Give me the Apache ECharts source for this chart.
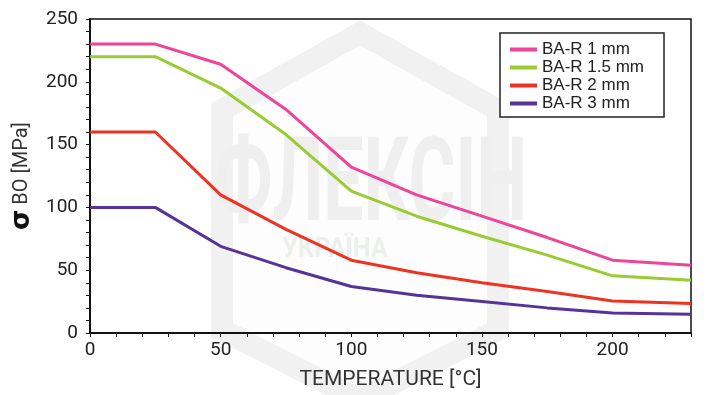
<!DOCTYPE html>
<html><head><meta charset="utf-8">
<script src="https://cdn.jsdelivr.net/npm/echarts@6/dist/echarts.min.js"></script>
<style>html,body{margin:0;padding:0;background:#fff}#c{width:709px;height:395px}</style>
</head><body><div id="c"></div>
<script>
const temps = [0, 25, 50, 75, 100, 125, 150, 175, 200, 230];
const seriesNames = ['BA-R 1 mm', 'BA-R 1.5 mm', 'BA-R 2 mm', 'BA-R 3 mm'];
const r1 = [230, 230, 214, 178, 132, 110, 93, 76, 58, 54];
const r15 = [220, 220, 195, 158, 113, 93, 77, 62, 45.5, 42];
const r2 = [160, 160, 110, 82.5, 58, 48, 40, 33, 25.5, 23.5];
const r3 = [100, 100, 69, 52, 37, 30, 25, 20, 16, 15];
const colors = ['#ee4499', '#99cc33', '#ee3322', '#553399'];
const font = 'Roboto, sans-serif';

const chart = echarts.init(document.getElementById('c'));
const mk = (name, vals, i) => ({
  name, type: 'line', data: temps.map((t, k) => [t, vals[k]]),
  symbol: 'none', lineStyle: { width: 3, color: colors[i] }, itemStyle: { color: colors[i] }, z: 5
});
chart.setOption({
  animation: false,
  graphic: [
    { type: 'polygon', z: -10, silent: true,
      shape: { points: [[360, 33], [498, 110], [498, 330], [360, 400], [222, 330], [222, 110]] },
      style: { fill: '#fcfdfc', stroke: '#f1f1f1', lineWidth: 22 } },
    { type: 'text', z: -9, silent: true, x: 214, y: 132, scaleX: 0.64, scaleY: 1.05,
      style: { text: 'ФЛЕКСІН', font: 'bold 112px Roboto, sans-serif', fill: '#efefef' } },
    { type: 'text', z: -9, silent: true, x: 282, y: 236, scaleX: 0.9,
      style: { text: 'УКРАЇНА', font: 'bold 28px Roboto, sans-serif', fill: '#ecf0ec' } }
  ],
  legend: {
    orient: 'vertical', left: 500, top: 33, data: seriesNames,
    icon: 'rect', itemWidth: 27, itemHeight: 4, itemGap: 1,
    borderColor: '#222', borderWidth: 1.5, padding: [8, 20, 5, 10],
    backgroundColor: '#fff',
    textStyle: { fontSize: 17, color: '#222', fontFamily: '"Liberation Sans", Arial, sans-serif' }
  },
  grid: { left: 90, right: 18, top: 19, bottom: 61, show: true, borderColor: '#111', borderWidth: 1.5, backgroundColor: 'transparent' },
  xAxis: {
    type: 'value', min: 0, max: 230, interval: 50,
    name: 'TEMPERATURE [°C]', nameLocation: 'middle', nameGap: 36,
    nameTextStyle: { fontSize: 21, color: '#333', fontFamily: font },
    axisLine: { show: true, lineStyle: { color: '#111', width: 2 } },
    axisTick: { show: true, length: 4, lineStyle: { color: '#111' } },
    minorTick: { show: true, splitNumber: 5, length: 4, lineStyle: { color: '#111' } },
    splitLine: { show: false },
    axisLabel: { fontSize: 19, color: '#222', fontFamily: font, margin: 8, showMaxLabel: false }
  },
  yAxis: {
    type: 'value', min: 0, max: 250, interval: 50,
    name: '{b|σ} BO [MPa]', nameLocation: 'middle', nameGap: 52, nameRotate: 90,
    nameTextStyle: { fontSize: 20, color: '#333', fontFamily: font,
      rich: { b: { fontSize: 26, fontWeight: 'bold', color: '#111', fontFamily: '"DejaVu Sans", sans-serif' } } },
    axisLine: { show: true, lineStyle: { color: '#111', width: 2 } },
    axisTick: { show: true, length: 4, lineStyle: { color: '#111' } },
    minorTick: { show: true, splitNumber: 5, length: 4, lineStyle: { color: '#111' } },
    splitLine: { show: false },
    axisLabel: { fontSize: 19, color: '#222', fontFamily: font, margin: 12 }
  },
  series: [mk(seriesNames[0], r1, 0), mk(seriesNames[1], r15, 1), mk(seriesNames[2], r2, 2), mk(seriesNames[3], r3, 3)]
});
</script></body></html>
